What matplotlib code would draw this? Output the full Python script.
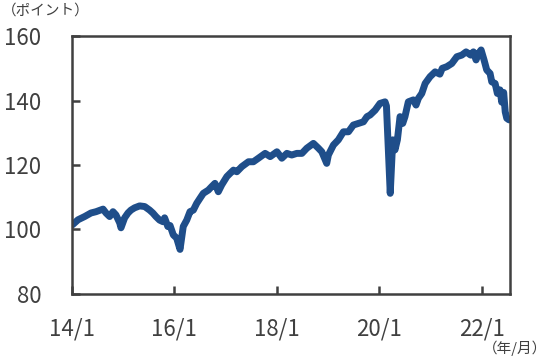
import matplotlib
matplotlib.use('Agg')
import matplotlib.pyplot as plt
import pandas as pd

plt.rcParams['font.family'] = ['Noto Sans CJK JP', 'DejaVu Sans']

# index values (date, point)
dates = [
    '2014-01-03', '2014-02-13', '2014-04-01', '2014-05-16', '2014-06-21', '2014-08-10',
    '2014-08-31', '2014-09-26', '2014-10-20', '2014-11-10', '2014-12-07', '2014-12-16',
    '2015-01-11', '2015-02-04', '2015-02-25', '2015-03-23', '2015-04-28', '2015-06-03',
    '2015-07-08', '2015-07-31', '2015-08-22', '2015-09-17', '2015-10-11', '2015-10-23',
    '2015-11-15', '2015-12-01', '2015-12-24', '2016-01-17', '2016-02-10', '2016-03-04',
    '2016-03-29', '2016-04-21', '2016-05-15', '2016-06-08', '2016-07-02', '2016-07-25',
    '2016-08-30', '2016-09-23', '2016-10-16', '2016-11-09', '2016-12-03', '2017-01-09',
    '2017-02-01', '2017-02-25', '2017-03-21', '2017-04-26', '2017-06-12', '2017-07-17',
    '2017-08-22', '2017-10-09', '2017-11-14', '2018-01-01', '2018-02-05', '2018-03-13',
    '2018-04-17', '2018-05-23', '2018-06-28', '2018-08-02', '2018-09-18', '2018-10-24',
    '2018-11-17', '2018-12-22', '2019-01-03', '2019-02-08', '2019-03-15', '2019-04-20',
    '2019-05-26', '2019-06-30', '2019-08-05', '2019-09-10', '2019-10-05', '2019-10-27',
    '2019-12-02', '2020-01-06', '2020-02-11', '2020-02-21', '2020-03-19', '2020-04-06',
    '2020-04-22', '2020-05-09', '2020-05-28', '2020-06-16', '2020-07-02', '2020-07-26',
    '2020-08-31', '2020-09-19', '2020-10-06', '2020-10-30', '2020-11-23', '2020-12-28',
    '2021-02-02', '2021-03-08', '2021-03-25', '2021-04-26', '2021-06-01', '2021-07-07',
    '2021-08-11', '2021-09-11', '2021-10-14', '2021-11-02', '2021-11-21', '2021-12-08',
    '2021-12-27', '2022-01-17', '2022-02-05', '2022-03-01', '2022-03-13', '2022-04-06',
    '2022-04-22', '2022-05-11', '2022-05-23', '2022-06-06', '2022-06-17', '2022-06-28',
    '2022-07-14',
]
values = [
    101.4, 103.0, 104.0, 105.1, 105.5, 106.3,
    105.1, 104.0, 105.5, 104.5, 102.0, 100.5,
    103.6, 105.1, 106.0, 106.7, 107.3, 107.1,
    106.0, 105.1, 104.0, 102.9, 102.4, 103.6,
    100.9, 101.2, 98.3, 97.3, 93.8, 100.9,
    102.9, 105.5, 106.0, 108.1, 109.7, 111.2,
    112.2, 113.3, 114.3, 111.7, 113.8, 116.4,
    117.4, 118.4, 117.9, 119.5, 121.0, 121.0,
    122.1, 123.6, 122.6, 124.1, 122.1, 123.6,
    123.1, 123.6, 123.6, 125.2, 126.7, 125.2,
    124.1, 120.5, 123.1, 126.2, 127.8, 130.3,
    130.3, 132.4, 132.9, 133.4, 135.0, 135.5,
    137.0, 139.1, 139.6, 138.3, 111.2, 127.8,
    124.7, 127.8, 135.0, 132.9, 135.0, 139.6,
    140.2, 138.6, 140.7, 142.2, 145.3, 147.4,
    148.9, 148.2, 150.0, 150.5, 151.5, 153.6,
    154.1, 155.1, 154.1, 155.1, 152.6, 154.6,
    155.7, 152.6, 149.5, 148.4, 145.8, 145.3,
    142.2, 143.3, 139.5, 142.5, 136.5, 134.5,
    134.0,
]
xtick_dates = ['2014-01-01', '2016-01-01', '2018-01-01', '2020-01-01', '2022-01-01']
xtick_labels = ['14/1', '16/1', '18/1', '20/1', '22/1']
yticks = [80, 100, 120, 140, 160]

text_color = '#404040'
fig = plt.figure(figsize=(5.5, 3.61), dpi=100)
ax = fig.add_axes([0.131, 0.186, 0.796, 0.714])

ax.plot(pd.to_datetime(dates), values, color='#1f4e8a', lw=5,
        solid_joinstyle='round', solid_capstyle='round')

ax.set_xlim(pd.Timestamp('2014-01-01'), pd.Timestamp('2022-07-20'))
ax.set_ylim(80, 160)
ax.set_yticks(yticks)
ax.set_xticks(pd.to_datetime(xtick_dates))
ax.set_xticklabels(xtick_labels)

for s in ax.spines.values():
    s.set_color(text_color)
    s.set_linewidth(1.8)
ax.tick_params(axis='both', direction='in', length=6, width=1.8, color=text_color,
               labelsize=16, labelcolor=text_color)
ax.tick_params(axis='y', pad=22)
ax.tick_params(axis='x', pad=17)

fig.text(0.003, 0.97, '（ポイント）', fontsize=10.5, color=text_color, va='center', ha='left')
fig.text(0.995, 0.035, '（年/月）', fontsize=10.5, color=text_color, va='center', ha='right')

fig.savefig('out.png', dpi=100)
